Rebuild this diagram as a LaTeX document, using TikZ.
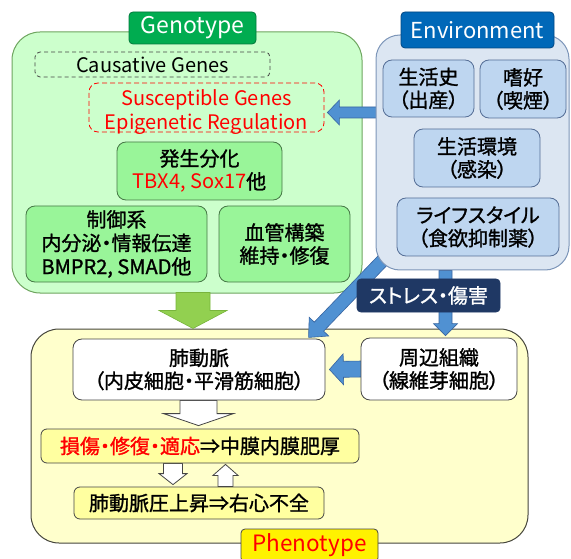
\documentclass[tikz,border=0pt]{standalone}
\usepackage{fontspec}
\setmainfont{Noto Sans CJK JP}[RawFeature=+palt]
\newfontfamily\jpb{Noto Sans CJK JP}[RawFeature=+palt, FakeBold=1.2]
\usetikzlibrary{calc}
\pgfdeclarelayer{back}
\pgfdeclarelayer{arrows}
\pgfsetlayers{back,arrows,main}
\definecolor{genofill}{RGB}{204,255,204}
\definecolor{genodraw}{RGB}{110,165,95}
\definecolor{genolbl}{RGB}{0,172,80}
\definecolor{genolbldraw}{RGB}{0,120,60}
\definecolor{innergreen}{RGB}{153,245,153}
\definecolor{innergreendraw}{RGB}{70,120,70}
\definecolor{envfill}{RGB}{220,230,242}
\definecolor{envdraw}{RGB}{125,150,185}
\definecolor{envlbl}{RGB}{0,104,184}
\definecolor{envlbldraw}{RGB}{0,70,130}
\definecolor{innerblue}{RGB}{190,214,240}
\definecolor{innerbluedraw}{RGB}{85,110,150}
\definecolor{arrowblue}{RGB}{80,145,210}
\definecolor{arrowbluedraw}{RGB}{55,100,160}
\definecolor{stressfill}{RGB}{31,56,100}
\definecolor{phenofill}{RGB}{255,255,204}
\definecolor{phenodraw}{RGB}{70,70,60}
\definecolor{lightyellow}{RGB}{255,255,160}
\definecolor{arrowgreen}{RGB}{146,208,80}
\definecolor{arrowgreendraw}{RGB}{120,180,60}
\definecolor{darkgray}{RGB}{70,70,70}
\definecolor{txtred}{RGB}{255,0,0}
\newcommand\blockarr[6]{%
  \draw[#6] let \p1=(#1), \p2=(#2), \n1={atan2(\y2-\y1,\x2-\x1)}, \n2={veclen(\x2-\x1,\y2-\y1)} in
  {[shift={(\p1)}, rotate=\n1] (0pt,-#3pt) -- ({\n2*1pt-#5pt},-#3pt) -- ({\n2*1pt-#5pt},-#4pt) -- ({\n2*1pt},0pt) -- ({\n2*1pt-#5pt},#4pt) -- ({\n2*1pt-#5pt},#3pt) -- (0pt,#3pt) -- cycle};}
\begin{document}
\begin{tikzpicture}[x=1pt,y=-1pt,
  bigbox/.style={draw, line width=1pt, rounded corners=28pt, inner sep=0pt},
  lblbox/.style={draw, line width=0.8pt, rounded corners=4pt, inner sep=0pt, text=white},
  inbox/.style={draw, line width=0.8pt, rounded corners=9pt, inner sep=0pt, align=center,
    font={\jpb\fontsize{20}{23}\selectfont}},
  greenbox/.style={inbox, fill=innergreen, draw=innergreendraw},
  bluebox/.style={inbox, fill=innerblue, draw=innerbluedraw},
  whitebox/.style={inbox, fill=white, draw=darkgray},
  yellowbox/.style={inbox, fill=lightyellow, draw=darkgray, rounded corners=6pt},
  bluearr/.style={fill=arrowblue, draw=arrowbluedraw, line width=0.6pt},
  greenarr/.style={fill=arrowgreen, draw=arrowgreendraw, line width=0.6pt},
  whitearr/.style={fill=white, draw=darkgray, line width=0.8pt}
]
\useasboundingbox (0,0) rectangle (571,559);
% big boxes
\begin{pgfonlayer}{back}
\node[bigbox, fill=phenofill, draw=phenodraw, minimum width=497, minimum height=214] (pheno) at (279.5,436) {};
\node[bigbox, fill=genofill, draw=genodraw, minimum width=350, minimum height=261] (geno) at (187,162.5) {};
\end{pgfonlayer}
% environment
\node[bigbox, fill=envfill, draw=envdraw, rounded corners=24pt, minimum width=193, minimum height=235] (env) at (472.5,152.5) {};
\node[lblbox, fill=envlbl, draw=envlbldraw, minimum width=153, minimum height=36, font={\fontsize{22}{24}\selectfont}] (envl) at (477.5,30) {Environment};
\node[bluebox, minimum width=91, minimum height=57] (hist) at (428.5,88.5) {生活史\\（出産）};
\node[bluebox, minimum width=86, minimum height=58] (pref) at (523,89) {嗜好\\（喫煙）};
\node[bluebox, minimum width=126, minimum height=58] (livenv) at (477,158) {生活環境\\（感染）};
\node[bluebox, minimum width=162, minimum height=58] (life) at (478,227) {ライフスタイル\\（食欲抑制薬）};
% genotype contents
\node[lblbox, fill=genolbl, draw=genolbldraw, minimum width=127, minimum height=32, font={\fontsize{23}{25}\selectfont}] (genol) at (192.5,28) {Genotype};
\node[draw=darkgray, dash pattern=on 4pt off 3pt, line width=0.8pt, rounded corners=5pt, minimum width=235, minimum height=25, inner sep=0pt, font={\fontsize{20}{23}\selectfont}] (caus) at (152.5,64.5) {Causative Genes};
\node[draw=txtred, dash pattern=on 5pt off 3pt, line width=0.8pt, rounded corners=9pt, minimum width=235, minimum height=49, inner sep=0pt] (sus) at (206.5,107.5) {};
\node[align=center, text=txtred, inner sep=0pt, font={\fontsize{20}{24.5}\selectfont}] (sust) at ($(sus.center)+(0,4.5)$) {Susceptible Genes\\Epigenetic Regulation};
\node[greenbox, minimum width=165, minimum height=58] (dev) at (199.5,171) {発生分化\\\textcolor{txtred}{\rmfamily TBX4, Sox17}他};
\node[greenbox, minimum width=181, minimum height=76, font={\jpb\fontsize{20}{23.5}\selectfont}] (ctrl) at (116.5,244) {制御系\\内分泌・情報伝達\\BMPR2, SMAD他};
\node[greenbox, minimum width=131, minimum height=76] (vasc) at (284.5,244) {血管構築\\維持・修復};
% phenotype contents
\node[whitebox, minimum width=252, minimum height=61] (pa) at (199,369.5) {肺動脈\\（内皮細胞・平滑筋細胞）};
\node[whitebox, minimum width=156, minimum height=62] (peri) at (439,369) {周辺組織\\（線維芽細胞）};
\node[yellowbox, minimum width=318, minimum height=34] (dmg) at (200,446) {\textcolor{txtred}{損傷・修復・適応}⇒中膜内膜肥厚};
\node[yellowbox, minimum width=250, minimum height=32] (pap) at (199,503) {肺動脈圧上昇⇒右心不全};
\node[lblbox, fill=yellow, draw=darkgray, text=txtred, minimum width=137, minimum height=33, font={\fontsize{22.5}{25}\selectfont}] (phenol) at (309.5,545.5) {Phenotype};
% arrows
\begin{pgfonlayer}{arrows}
\blockarr{$(env.south west)+(9,-12)$}{$(pa.north east)+(-17,-1)$}{6.5}{13.5}{15}{bluearr}
\blockarr{445.5,0 |- env.south}{$(445.5,0 |- peri.north)+(0,-2)$}{6.5}{12}{12}{bluearr}
\blockarr{$(env.west |- 0,112.5)+(4,0)$}{$(sus.east |- 0,112.5)+(3,0)$}{5.5}{12.5}{12}{bluearr}
\blockarr{$(peri.west)+(2,0)$}{$(pa.east)+(4,0)$}{8}{15.5}{14}{bluearr}
\blockarr{$(193,0 |- geno.south)+(0,-1)$}{193,0 |- pheno.north}{17}{34}{18}{greenarr}
\blockarr{198.5,0 |- pa.south}{$(198.5,0 |- dmg.north)+(0,-3)$}{18.5}{35}{12}{whitearr}
\blockarr{173,0 |- dmg.south}{$(173,0 |- pap.north)+(0,-2)$}{9.5}{14}{11}{whitearr}
\blockarr{225.5,0 |- pap.north}{$(225.5,0 |- dmg.south)+(0,1)$}{7.5}{12.5}{11}{whitearr}
\end{pgfonlayer}
\node[lblbox, fill=stressfill, draw=stressfill, minimum width=143, minimum height=33, font={\jpb\fontsize{20}{22}\selectfont}] (stress) at (428.5,295.5) {ストレス・傷害};
\end{tikzpicture}
\end{document}
